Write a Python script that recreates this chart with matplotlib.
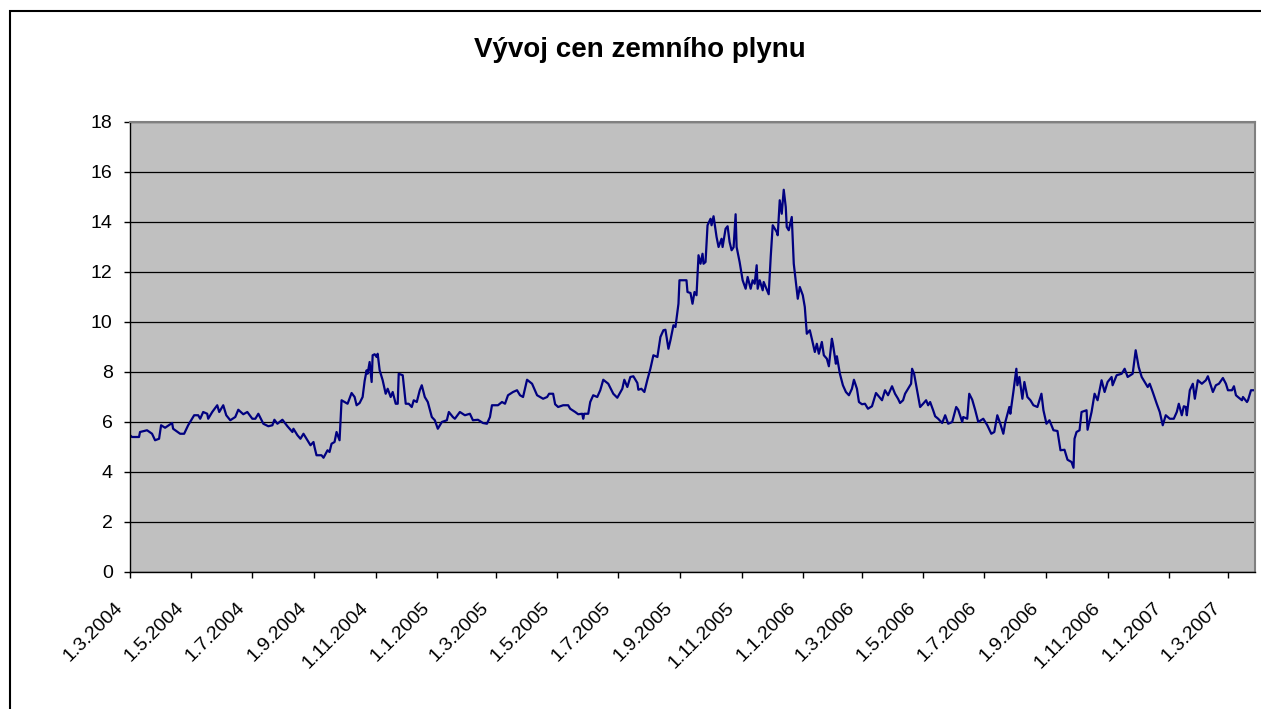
import matplotlib
matplotlib.use('Agg')
import matplotlib.pyplot as plt
import matplotlib.dates as mdates
from matplotlib.patches import Rectangle
from matplotlib.transforms import ScaledTranslation
import numpy as np

# dny od 1.3.2004 a cena plynu
day_offset = [
    0, 2, 9, 10, 17, 22, 25, 29, 31, 35, 42, 43, 50, 54, 58, 64, 68, 70, 73, 77,
    78, 82, 87, 89, 93, 96, 100, 105, 108, 113, 117, 122, 125, 128, 133, 138, 142, 144, 147, 152,
    157, 162, 163, 167, 170, 173, 177, 180, 183, 184, 186, 191, 193, 197, 199, 201, 204, 206, 209, 211,
    217, 221, 224, 226, 229, 232, 234, 236, 237, 239, 241, 242, 244, 246, 247, 249,
    252, 255, 257, 260, 262, 265, 267, 268, 272, 275, 278, 281, 283, 286, 289, 291, 294, 297, 301, 304,
    307, 311, 316, 318, 322, 324, 329, 334, 339, 342, 347, 352, 356, 359, 361, 367, 371, 374, 377, 382,
    386, 389, 392, 396, 401, 406, 409, 412, 416, 418, 422, 424, 427, 432, 437, 439, 444, 447, 451, 452,
    453, 457, 459, 462, 466, 469, 472, 477, 482, 486, 491, 493, 496, 499,
    502, 506, 507, 510, 513, 516, 519, 522, 526, 529, 532, 534, 537, 539, 542, 544, 547, 548, 552, 555,
    556, 559, 561, 563, 565, 567, 569, 571, 572, 574, 576, 579, 580, 582, 585, 587, 590, 591, 594, 596,
    598, 600, 602, 604, 605, 608, 611, 614, 616, 619, 621, 623, 625, 626, 628, 631, 632, 637, 639, 641,
    645, 646, 648, 650, 652, 654, 655, 657, 660, 662, 665, 666, 668, 671, 673, 675, 678, 680, 683, 685,
    687, 690, 692, 695, 697, 700, 701, 704, 705, 708, 711, 714, 717, 720, 722, 725, 727, 730, 733, 736,
    740, 744,
    750, 753, 756, 760, 763, 766, 768, 771, 773, 779, 780, 782, 785, 788, 791, 794, 796, 798, 801, 803,
    806, 810, 813, 816, 820, 824, 826, 830, 831, 835, 837, 840, 843, 846, 851, 855, 859, 862, 865, 868,
    871, 873, 877, 878, 881, 884, 885, 887, 890, 892, 895, 898, 901, 905, 909, 911, 914, 917, 921, 925,
    928, 932, 935, 939, 941, 942, 944, 947, 949, 954, 955, 959, 962, 965, 969, 972, 975, 979, 980, 984,
    989, 992, 995,
    1000, 1003, 1006, 1009, 1012, 1015, 1017, 1020, 1024, 1027, 1030, 1033, 1037, 1041, 1044, 1046, 1049,
    1051, 1053, 1054, 1057, 1060, 1062, 1065, 1069, 1073, 1075, 1080, 1083, 1086, 1090, 1093, 1095, 1099,
    1101, 1103, 1105, 1109, 1110, 1114, 1115, 1118, 1122,
]
price = [
    5.47, 5.40, 5.40, 5.60, 5.67, 5.53, 5.27, 5.33, 5.87, 5.77, 5.96, 5.73, 5.53, 5.53, 5.87, 6.27, 6.27, 6.13, 6.40, 6.33,
    6.13, 6.40, 6.67, 6.40, 6.67, 6.27, 6.07, 6.20, 6.49, 6.31, 6.40, 6.13, 6.13, 6.33, 5.93, 5.83, 5.87, 6.09, 5.93, 6.09,
    5.83, 5.60, 5.73, 5.47, 5.33, 5.53, 5.27, 5.07, 5.20, 5.00, 4.67, 4.67, 4.57, 4.87, 4.80, 5.13, 5.20, 5.60, 5.27, 6.87,
    6.73, 7.16, 7.00, 6.67, 6.76, 7.00, 7.64, 8.07, 7.93, 8.40, 7.60, 8.67, 8.71, 8.60, 8.73, 8.07,
    7.67, 7.13, 7.33, 7.00, 7.20, 6.73, 6.73, 7.93, 7.87, 6.73, 6.73, 6.60, 6.87, 6.80, 7.27, 7.47, 7.00, 6.80, 6.20, 6.07,
    5.73, 6.00, 6.07, 6.40, 6.20, 6.13, 6.40, 6.27, 6.33, 6.07, 6.09, 5.96, 5.93, 6.20, 6.67, 6.67, 6.80, 6.73, 7.07, 7.20,
    7.27, 7.07, 7.00, 7.69, 7.53, 7.07, 7.00, 6.93, 7.00, 7.13, 7.13, 6.71, 6.60, 6.67, 6.67, 6.53, 6.40, 6.31, 6.33, 6.13,
    6.33, 6.33, 6.80, 7.07, 7.00, 7.27, 7.69, 7.53, 7.13, 6.97, 7.33, 7.69, 7.40, 7.80,
    7.83, 7.56, 7.29, 7.33, 7.20, 7.69, 8.13, 8.67, 8.60, 9.40, 9.67, 9.69, 8.93, 9.27, 9.87, 9.80, 10.73, 11.67, 11.67, 11.67,
    11.20, 11.16, 10.73, 11.20, 11.07, 12.67, 12.33, 12.73, 12.33, 12.40, 13.87, 14.13, 13.87, 14.23, 13.40, 13.00, 13.33, 13.00, 13.73, 13.83,
    13.20, 12.87, 12.99, 14.31, 13.00, 12.40, 11.67, 11.33, 11.80, 11.33, 11.67, 11.53, 12.27, 11.33, 11.67, 11.27, 11.60, 11.11, 12.60, 13.87,
    13.60, 13.47, 14.87, 14.33, 15.29, 14.60, 13.80, 13.67, 14.20, 12.33, 11.27, 10.93, 11.40, 11.07, 10.60, 9.53, 9.67, 9.33, 8.80, 9.13,
    8.73, 9.20, 8.67, 8.53, 8.23, 9.33, 9.13, 8.33, 8.63, 7.93, 7.47, 7.20, 7.07, 7.33, 7.69, 7.33, 6.80, 6.71, 6.73, 6.53,
    6.63, 7.16,
    6.87, 7.27, 7.07, 7.43, 7.13, 6.93, 6.76, 6.87, 7.13, 7.53, 8.13, 7.93, 7.27, 6.60, 6.73, 6.87, 6.67, 6.80, 6.47, 6.23,
    6.13, 5.96, 6.27, 5.93, 6.00, 6.60, 6.49, 6.00, 6.20, 6.13, 7.13, 6.89, 6.47, 6.00, 6.13, 5.87, 5.53, 5.60, 6.27, 5.93,
    5.53, 6.00, 6.60, 6.33, 7.20, 8.13, 7.47, 7.80, 6.93, 7.60, 7.00, 6.87, 6.67, 6.60, 7.13, 6.47, 5.93, 6.07, 5.67, 5.64,
    4.87, 4.89, 4.49, 4.40, 4.17, 5.33, 5.60, 5.67, 6.40, 6.47, 5.69, 6.40, 7.13, 6.87, 7.67, 7.20, 7.60, 7.80, 7.47, 7.87,
    7.93, 8.13, 7.80,
    7.93, 8.87, 8.20, 7.80, 7.60, 7.40, 7.53, 7.20, 6.73, 6.40, 5.87, 6.27, 6.13, 6.13, 6.40, 6.73, 6.27,
    6.63, 6.60, 6.27, 7.27, 7.53, 6.93, 7.67, 7.53, 7.67, 7.83, 7.20, 7.47, 7.53, 7.76, 7.53, 7.27, 7.27,
    7.43, 7.07, 7.00, 6.87, 7.00, 6.80, 6.87, 7.27, 7.27,
]
y_ticks = [0, 2, 4, 6, 8, 10, 12, 14, 16, 18]

start = np.datetime64('2004-03-01')
dates = start + np.array(day_offset).astype('timedelta64[D]')

plt.rcParams['font.family'] = ['Liberation Sans', 'DejaVu Sans']

W, H = 1261, 709
fig = plt.figure(figsize=(W / 100, H / 100), dpi=100)
ax = fig.add_axes([130 / W, 1 - 572 / H, (1255 - 130) / W, 450 / H])
ax.set_facecolor('#C0C0C0')

ax.plot(dates, price, color='#000080', linewidth=1.6)

ax.set_ylim(0, 18)
ax.set_yticks(y_ticks)
ax.set_xlim(start, np.datetime64('2007-03-28'))
ax.yaxis.grid(True, color='black', linewidth=0.9)
ax.set_axisbelow(True)

ax.xaxis.set_major_locator(mdates.MonthLocator(bymonth=[1, 3, 5, 7, 9, 11]))
ax.xaxis.set_major_formatter(plt.FuncFormatter(
    lambda v, p: '{0.day}.{0.month}.{0.year}'.format(mdates.num2date(v))))

for s in ['top', 'right']:
    ax.spines[s].set_color('#808080')
    ax.spines[s].set_linewidth(1.5)
for s in ['left', 'bottom']:
    ax.spines[s].set_color('black')
    ax.spines[s].set_linewidth(1.0)

ax.tick_params(axis='y', direction='out', length=4.5, width=1, labelsize=14, pad=8)
ax.tick_params(axis='x', direction='out', length=4, width=1, labelsize=14, pad=20)

for lab in ax.get_xticklabels():
    lab.set_rotation(45)
    lab.set_ha('right')
    lab.set_va('center')
    lab.set_rotation_mode('anchor')
    lab.set_transform(lab.get_transform() + ScaledTranslation(-0.1, 0, fig.dpi_scale_trans))

fig.text(640 / W, 1 - 57 / H, 'Vývoj cen zemního plynu', ha='center', va='baseline',
         fontsize=20, fontweight='bold')

# ramecek grafu
fig.patches.append(Rectangle((9.5 / W, -0.5), 2, 1.5 - 10.5 / H, transform=fig.transFigure,
                             fill=False, edgecolor='black', linewidth=1.5, clip_on=False))

fig.savefig('out.png', dpi=100)
